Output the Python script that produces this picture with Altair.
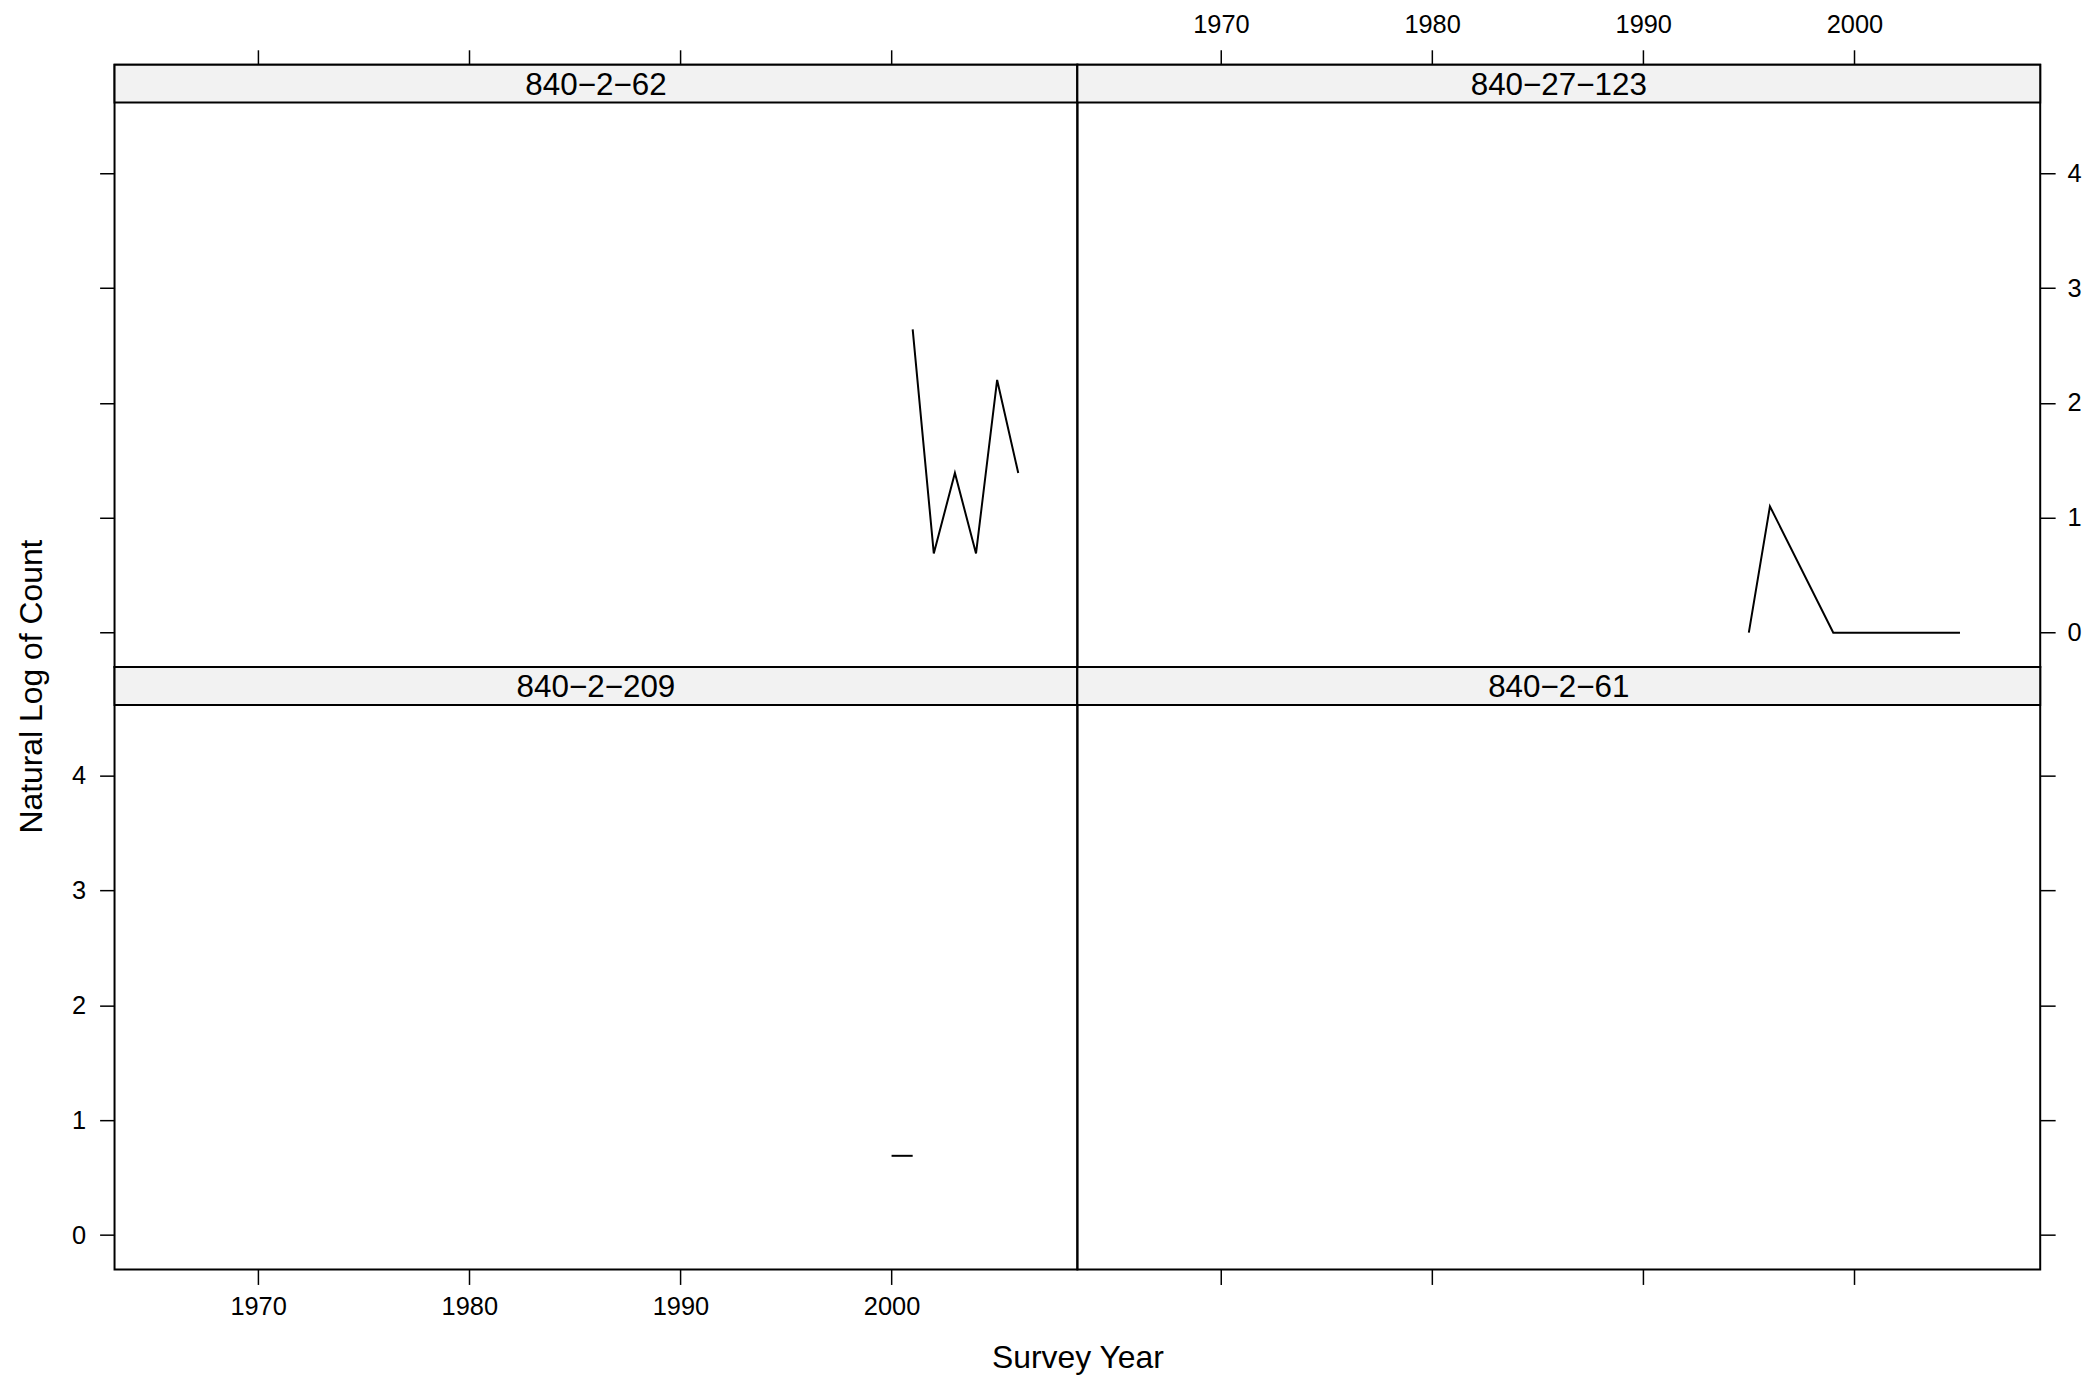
import altair as alt
import pandas as pd

# ---- data ----
panel_names = ["840\u22122\u221262", "840\u221227\u2212123", "840\u22122\u2212209", "840\u22122\u221261"]

years_62 = [2001, 2002, 2003, 2004, 2005, 2006]
logs_62 = [2.64, 0.69, 1.39, 0.69, 2.20, 1.39]

years_123 = [1995, 1996, 1999, 2005]
logs_123 = [0.0, 1.10, 0.0, 0.0]

years_209 = [2000, 2001]
logs_209 = [0.69, 0.69]

years_61 = []
logs_61 = []

year_ticks = [1970, 1980, 1990, 2000]
log_ticks = [0, 1, 2, 3, 4]

X_DOMAIN = [1963.2, 2008.8]
Y_DOMAIN = [-0.30, 4.945]

W = 967
H = 605
STRIP = 38
FONT = "Liberation Sans"


def panel(name, years, logs, x_orient, x_labels, y_orient, y_labels,
          x_title=False, y_title=False):
    df = pd.DataFrame({"year": pd.Series(years, dtype=float),
                       "log_count": pd.Series(logs, dtype=float)})

    x_axis = dict(orient=x_orient, values=year_ticks, labels=x_labels, format="d",
                  labelPadding=10 if x_orient == "bottom" else 12)
    y_axis = dict(orient=y_orient, values=log_ticks, labels=y_labels, format="d",
                  labelPadding=14 if y_orient == "left" else 12)
    if x_title:
        x_axis.update(title="Survey Year", titleX=W, titleY=98,
                      titleAlign="center", titleBaseline="alphabetic")
    else:
        x_axis.update(title=None)
    if y_title:
        y_axis.update(title="Natural Log of Count", titleX=-73, titleY=19,
                      titleAngle=270, titleAlign="center", titleBaseline="alphabetic")
    else:
        y_axis.update(title=None)

    line = alt.Chart(df).mark_line(color="black", strokeWidth=2).encode(
        x=alt.X("year:Q", scale=alt.Scale(domain=X_DOMAIN, nice=False, zero=False),
                axis=alt.Axis(**x_axis)),
        y=alt.Y("log_count:Q", scale=alt.Scale(domain=Y_DOMAIN, nice=False, zero=False),
                axis=alt.Axis(**y_axis)),
    )

    strip_df = pd.DataFrame({"label": [name]})
    strip = alt.Chart(strip_df).mark_rect(fill="#f2f2f2", stroke="black", strokeWidth=2).encode(
        x=alt.value(0), x2=alt.value(W), y=alt.value(0), y2=alt.value(STRIP)
    )
    strip_text = alt.Chart(strip_df).mark_text(
        font=FONT, fontSize=31.5, color="black", align="center", baseline="middle"
    ).encode(text="label:N", x=alt.value(W / 2), y=alt.value(STRIP / 2 + 2))

    return alt.layer(strip, strip_text, line).properties(width=W, height=H)


tl = panel(panel_names[0], years_62, logs_62, "top", False, "left", False)
tr = panel(panel_names[1], years_123, logs_123, "top", True, "right", True)
bl = panel(panel_names[2], years_209, logs_209, "bottom", True, "left", True,
           x_title=True, y_title=True)
br = panel(panel_names[3], years_61, logs_61, "bottom", False, "right", False)

chart = alt.concat(tl, tr, bl, br, columns=2, spacing=0, bounds="flush").properties(
    padding={"left": 6, "top": 1, "right": 5, "bottom": 5},
    background="white",
).configure_view(
    stroke="black", strokeWidth=2
).configure_axis(
    grid=False, domain=False, ticks=True, tickSize=15, tickWidth=1.5, tickColor="black",
    labelFont=FONT, labelFontSize=25.5, labelColor="black",
    titleFont=FONT, titleFontSize=32, titleFontWeight="normal", titleColor="black",
)

chart.save("out.html", embed_options={"renderer": "svg", "actions": False})
